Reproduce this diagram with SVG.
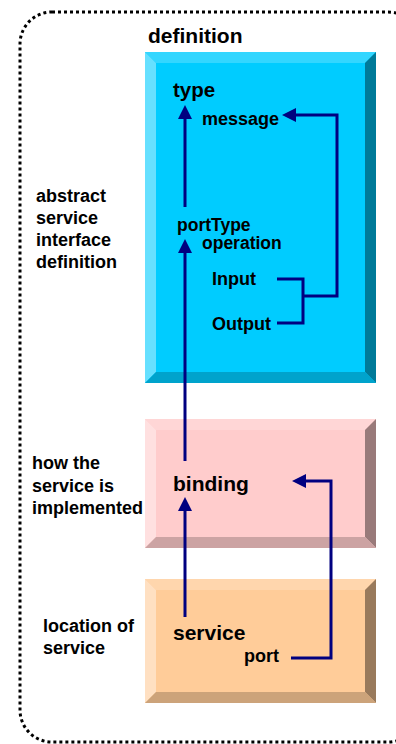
<svg xmlns="http://www.w3.org/2000/svg" width="396" height="744" viewBox="0 0 396 744">
<defs>
<style>
text{font-family:"Liberation Sans",Arial,sans-serif;font-weight:bold;fill:#000}
.l{font-size:18px}
.big{font-size:21px}
.mid{font-size:18px}
.c{fill:none;stroke:#000080;stroke-width:3}
</style>
<marker id="ah" markerUnits="userSpaceOnUse" markerWidth="16" markerHeight="16" refX="10" refY="7" orient="auto">
<path d="M0,0 L14,7 L0,14 Z" fill="#000080"/>
</marker>
</defs>
<rect width="396" height="744" fill="#fff"/>
<g id="boundary">
<rect x="20" y="12" width="400" height="730" rx="32" ry="32" fill="none" stroke="#000" stroke-width="3" stroke-dasharray="3,3"/>
<text x="148" y="43" style="font-size:21px">definition</text>
</g>
<g id="definition-box">
<rect x="145" y="52" width="231" height="331" fill="#00CCFF"/>
<polygon points="145,52 376,52 365,63 156,63" fill="#33D6FF"/>
<polygon points="145,52 156,63 156,372 145,383" fill="#66E0FF"/>
<polygon points="376,52 376,383 365,372 365,63" fill="#007A99"/>
<polygon points="145,383 156,372 365,372 376,383" fill="#00A3CC"/>
</g>
<g id="binding-box">
<rect x="145" y="419" width="231" height="129" fill="#FFCCCC"/>
<polygon points="145,419 376,419 365,430 156,430" fill="#FFD6D6"/>
<polygon points="145,419 156,430 156,537 145,548" fill="#FFE0E0"/>
<polygon points="376,419 376,548 365,537 365,430" fill="#997A7A"/>
<polygon points="145,548 156,537 365,537 376,548" fill="#CCA3A3"/>
</g>
<g id="service-box">
<rect x="145" y="579" width="231" height="124" fill="#FFCC99"/>
<polygon points="145,579 376,579 365,590 156,590" fill="#FFD6AD"/>
<polygon points="145,579 156,590 156,692 145,703" fill="#FFE0C2"/>
<polygon points="376,579 376,703 365,692 365,590" fill="#997A5C"/>
<polygon points="145,703 156,692 365,692 376,703" fill="#CCA37A"/>
</g>
<g id="labels-left">
<text class="l" x="36" y="202">abstract</text>
<text class="l" x="36" y="224">service</text>
<text class="l" x="36" y="246">interface</text>
<text class="l" x="36" y="268">definition</text>
<text class="l" x="32" y="469">how the</text>
<text class="l" x="32" y="492">service is</text>
<text class="l" x="32" y="514">implemented</text>
<text class="l" x="43" y="632">location of</text>
<text class="l" x="43" y="654">service</text>
</g>
<g id="type"><text x="173" y="97" style="font-size:20.5px">type</text></g>
<g id="message"><text class="mid" x="202" y="125">message</text></g>
<g id="portType"><text x="177" y="231" style="font-size:17.5px">portType</text></g>
<g id="operation"><text x="202" y="249" style="font-size:17.5px">operation</text></g>
<g id="input"><text class="mid" x="212" y="285">Input</text></g>
<g id="output"><text class="mid" x="212" y="330">Output</text></g>
<g id="binding"><text class="big" x="173" y="491">binding</text></g>
<g id="service"><text class="big" x="173" y="640">service</text></g>
<g id="port"><text class="mid" x="244" y="662">port</text></g>
<g id="connectors">
<path class="c" d="M185,207 L185,109" marker-end="url(#ah)"/>
<path class="c" d="M277,279 L303,279 L303,323 L277,323"/>
<path class="c" d="M303,296 L337,296 L337,115 L286,115" marker-end="url(#ah)"/>
<path class="c" d="M185,461 L185,243" marker-end="url(#ah)"/>
<path class="c" d="M185,617 L185,501" marker-end="url(#ah)"/>
<path class="c" d="M291,658 L331,658 L331,481 L296,481" marker-end="url(#ah)"/>
</g>
</svg>
